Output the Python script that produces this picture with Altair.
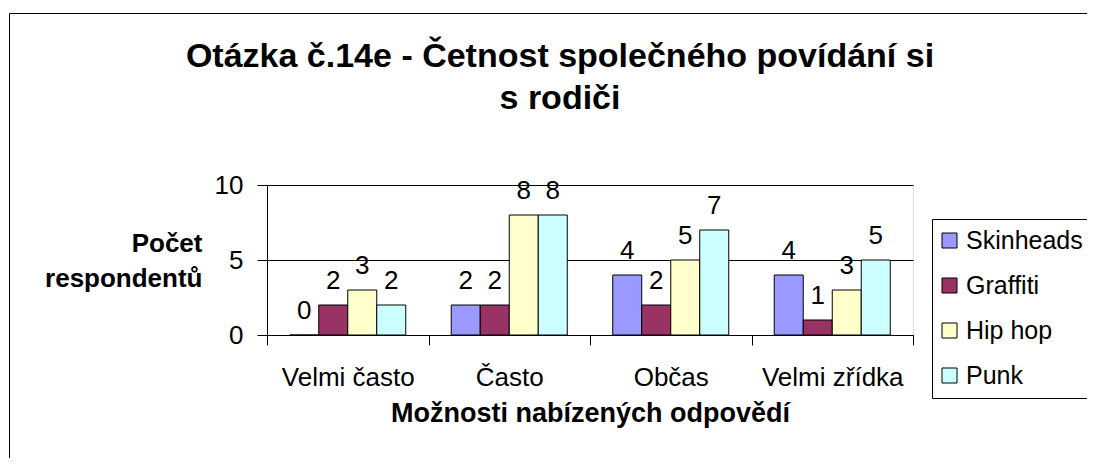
import altair as alt
import pandas as pd

categories = ["Velmi často", "Často", "Občas", "Velmi zřídka"]
series = ["Skinheads", "Graffiti", "Hip hop", "Punk"]
skinheads = [0, 2, 4, 4]
graffiti = [2, 2, 2, 1]
hiphop = [3, 8, 5, 3]
punk = [2, 8, 7, 5]
colors = ["#9999FF", "#993366", "#FFFFCC", "#CCFFFF"]

title_lines = ["Otázka č.14e - Četnost společného povídání si", "s rodiči"]
y_title = ["Počet", "respondentů"]
x_title = "Možnosti nabízených odpovědí"

FONT = "Liberation Sans"

rows = []
for s, vals in zip(series, [skinheads, graffiti, hiphop, punk]):
    for c, v in zip(categories, vals):
        rows.append({"cat": c, "series": s, "value": v})
df = pd.DataFrame(rows)

x_enc = alt.X(
    "cat:N",
    sort=categories,
    scale=alt.Scale(paddingInner=0, paddingOuter=0),
    axis=alt.Axis(
        title=x_title,
        labelAngle=0,
        tickBand="extent",
        tickSize=10,
        tickColor="black",
        domainColor="black",
        labelFontSize=26,
        labelFont=FONT,
        labelColor="black",
        labelBaseline="alphabetic",
        labelPadding=40,
        titleFontSize=27,
        titleFont=FONT,
        titleFontWeight="bold",
        titleColor="black",
        titleBaseline="alphabetic",
        titleY=86,
        grid=False,
    ),
)
xo_enc = alt.XOffset(
    "series:N", sort=series, scale=alt.Scale(paddingInner=0, paddingOuter=0.784)
)
y_enc = alt.Y(
    "value:Q",
    scale=alt.Scale(domain=[0, 10]),
    axis=alt.Axis(
        values=[0, 5, 10],
        title=y_title,
        titleAngle=0,
        titleAlign="right",
        titleBaseline="alphabetic",
        titleX=-65,
        titleY=66,
        titleFontSize=26,
        titleFont=FONT,
        titleFontWeight="bold",
        titleColor="black",
        titleLineHeight=35,
        tickSize=10,
        tickColor="black",
        domainColor="black",
        labelFontSize=26,
        labelFont=FONT,
        labelColor="black",
        labelPadding=14,
        grid=True,
        gridColor="black",
        gridOpacity=1,
    ),
)

base = alt.Chart(df)

bars = base.mark_bar(stroke="black", strokeWidth=1).encode(
    x=x_enc,
    xOffset=xo_enc,
    y=y_enc,
    color=alt.Color(
        "series:N",
        sort=series,
        scale=alt.Scale(domain=series, range=colors),
        legend=alt.Legend(
            title=None,
            orient="none",
            legendX=665,
            legendY=34,
            padding=9,
            strokeColor="black",
            fillColor="white",
            symbolType="square",
            symbolSize=225,
            symbolStrokeColor="black",
            symbolStrokeWidth=1,
            symbolOpacity=1,
            symbolOffset=-4,
            labelFontSize=25,
            labelFont=FONT,
            labelColor="black",
            labelOffset=4,
            rowPadding=19,
        ),
    ),
)

labels = base.mark_text(
    baseline="alphabetic", dy=-16, fontSize=26, font=FONT, color="black"
).encode(
    x=alt.X("cat:N", sort=categories),
    xOffset=alt.XOffset("series:N", sort=series),
    y=alt.Y("value:Q"),
    text=alt.Text("value:Q"),
)

border = alt.Chart(pd.DataFrame({"k": [0]})).mark_rect(
    fill="transparent", stroke="black", strokeWidth=1
).encode(
    x=alt.value(-257.5),
    x2=alt.value(840),
    y=alt.value(-171.5),
    y2=alt.value(320),
)

chart = (
    alt.layer(border, bars, labels)
    .properties(
        width=646,
        height=150,
        padding={"left": 259, "top": 177, "right": 174, "bottom": 123},
        autosize=alt.AutoSizeParams(type="none"),
        title=alt.TitleParams(
            text=title_lines,
            fontSize=34,
            font=FONT,
            fontWeight="bold",
            color="black",
            anchor="middle",
            frame="group",
            dx=-30,
            offset=0,
            dy=103,
            lineHeight=42,
        ),
    )
    .configure_view(stroke="#808080", fill="#C0C0C0")
    .configure(background="white")
)

chart.save("out.html", embed_options={"renderer": "svg", "actions": False})
